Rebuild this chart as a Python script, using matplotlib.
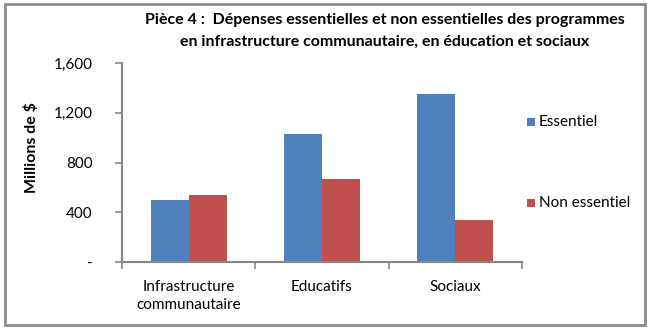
import numpy as np
import matplotlib

matplotlib.use('Agg')
import matplotlib.pyplot as plt
from matplotlib.patches import Rectangle

categories = ['Infrastructure\ncommunautaire', 'Educatifs', 'Sociaux']
essentiel = [500, 1030, 1350]
non_essentiel = [535, 665, 340]
series_names = ['Essentiel', 'Non essentiel']
yticks = [0, 400, 800, 1200, 1600]
ytick_labels = ['-', '400', '800', '1,200', '1,600']
title_lines = ['Pièce 4 :  Dépenses essentielles et non essentielles des programmes',
               'en infrastructure communautaire, en éducation et sociaux']

blue = '#4F81BD'
red = '#C0504D'
axis_grey = '#868686'

plt.rcParams['font.family'] = ['Lato', 'DejaVu Sans']

W, H = 650, 333
fig = plt.figure(figsize=(W / 100, H / 100), dpi=100)

# зона графика в пикселях
left, right, top, bottom = 122, 522, 63, 262
ax = fig.add_axes([left / W, 1 - bottom / H, (right - left) / W, (bottom - top) / H])

x = np.arange(len(categories))
width = 0.286
ax.bar(x - width / 2, essentiel, width, color=blue, label=series_names[0])
ax.bar(x + width / 2, non_essentiel, width, color=red, label=series_names[1])

ax.set_xlim(-0.5, len(categories) - 0.5)
ax.set_ylim(0, 1600)
ax.set_yticks(yticks)
ax.set_yticklabels(ytick_labels, fontsize=11)
ax.set_xticks(x)
ax.set_xticklabels(categories, fontsize=11, linespacing=1.35, va='top')
ax.tick_params(axis='x', length=0, pad=13)
ax.set_xticks(np.arange(len(categories) + 1) - 0.5, minor=True)
ax.tick_params(axis='x', which='minor', length=5, color=axis_grey, width=1.2, direction='out')
ax.tick_params(axis='y', length=5, color=axis_grey, width=1.2, direction='out', pad=16)

for s in ['top', 'right']:
    ax.spines[s].set_visible(False)
for s in ['left', 'bottom']:
    ax.spines[s].set_color(axis_grey)
    ax.spines[s].set_linewidth(1.5)

ax.set_ylabel('Millions de $', fontsize=11.5, fontweight='bold')
ax.yaxis.set_label_coords((39 - left) / (right - left), (bottom - 148) / (bottom - top))

# легенда
for name, color, yc in [(series_names[0], blue, 122), (series_names[1], red, 203)]:
    fig.patches.append(Rectangle((527 / W, 1 - (yc + 4) / H), 8 / W, 8 / H,
                                 transform=fig.transFigure, facecolor=color, edgecolor='none'))
    fig.text(539 / W, 1 - yc / H, name, fontsize=11, va='center', ha='left')

# заголовок
for line, yc in zip(title_lines, [20, 42]):
    fig.text(385 / W, 1 - yc / H, line, fontsize=11.5, fontweight='bold', va='center', ha='center')

# рамка
fig.patches.append(Rectangle((5 / W, 1 - 325 / H), 640 / W, 321 / H, transform=fig.transFigure,
                             fill=False, edgecolor='#8C8C8C', linewidth=2))

plt.savefig('out.png', dpi=100)
